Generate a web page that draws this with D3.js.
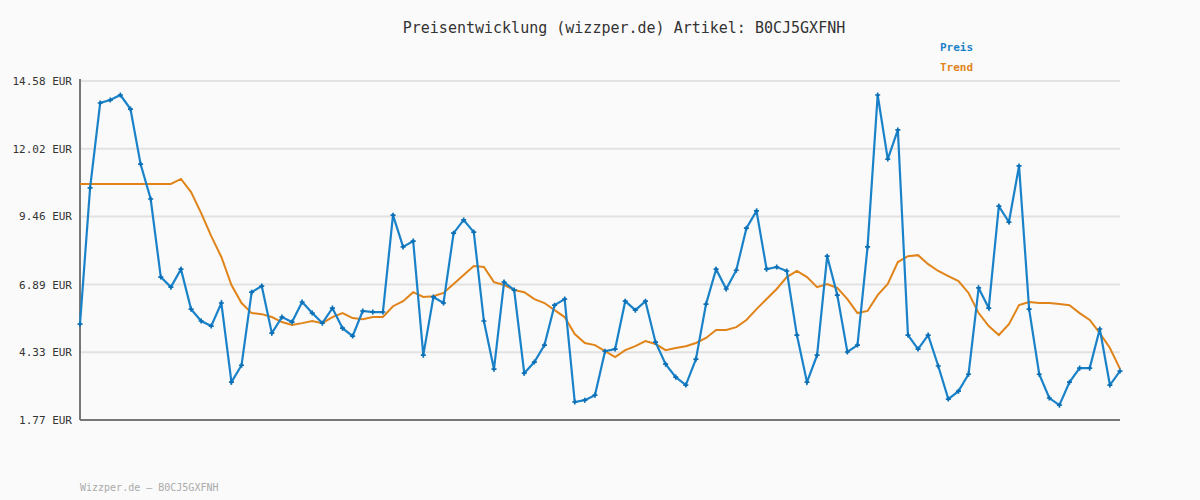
<!DOCTYPE html><html><head><meta charset="utf-8"><script src="https://cdn.jsdelivr.net/npm/d3@7"></script>
<style>body{margin:0;background:#fafafa}svg{font-family:"DejaVu Sans Mono",monospace}</style></head><body><svg id="c" width="1200" height="500"></svg><script>
const price=[5.39,10.54,13.75,13.86,14.05,13.52,11.44,10.12,7.17,6.79,7.47,5.96,5.51,5.32,6.19,3.20,3.84,6.60,6.83,5.05,5.66,5.47,6.23,5.81,5.43,6.00,5.24,4.94,5.89,5.85,5.85,9.51,8.31,8.53,4.22,6.42,6.19,8.83,9.33,8.87,5.51,3.69,6.98,6.68,3.54,3.96,4.60,6.11,6.34,2.45,2.52,2.71,4.37,4.45,6.26,5.92,6.26,4.71,3.88,3.39,3.09,4.07,6.15,7.47,6.72,7.43,9.02,9.67,7.47,7.55,7.40,4.98,3.20,4.22,7.96,6.49,4.34,4.60,8.31,14.05,11.63,12.73,4.98,4.45,4.98,3.81,2.56,2.86,3.50,6.76,6.00,9.85,9.25,11.37,5.96,3.50,2.60,2.33,3.20,3.73,3.73,5.21,3.09,3.62];
const trend=[10.69,10.69,10.69,10.69,10.69,10.69,10.69,10.69,10.69,10.69,10.88,10.38,9.59,8.72,7.93,6.87,6.19,5.81,5.77,5.66,5.47,5.36,5.43,5.51,5.43,5.66,5.81,5.62,5.58,5.66,5.66,6.07,6.26,6.60,6.42,6.45,6.57,6.91,7.25,7.59,7.55,6.98,6.87,6.68,6.60,6.34,6.19,5.92,5.66,5.02,4.68,4.60,4.37,4.15,4.41,4.56,4.75,4.64,4.41,4.49,4.56,4.68,4.87,5.17,5.17,5.28,5.55,5.96,6.34,6.72,7.17,7.40,7.17,6.79,6.91,6.76,6.34,5.81,5.89,6.49,6.91,7.74,7.96,8.00,7.66,7.40,7.21,7.02,6.57,5.81,5.32,4.98,5.39,6.11,6.23,6.19,6.19,6.15,6.11,5.81,5.55,5.05,4.49,3.70];
const ticks=[1.77,4.33,6.89,9.46,12.02,14.58];
const title="Preisentwicklung (wizzper.de) Artikel: B0CJ5GXFNH";
const svg=d3.select("#c");
const L=80,R=1120,T=81,B=420;
const x=d3.scaleLinear().domain([0,price.length-1]).range([L,R]);
const y=d3.scaleLinear().domain([1.77,14.58]).range([B,T]);
svg.append("g").selectAll("line").data(ticks).join("line").attr("x1",L).attr("x2",R).attr("y1",d=>y(d)).attr("y2",d=>y(d)).attr("stroke","#e2e2e2").attr("stroke-width",2);
svg.append("g").selectAll("text").data(ticks).join("text").attr("x",L-8).attr("y",d=>y(d)+4).attr("text-anchor","end").attr("font-size",11).attr("fill","#333").text(d=>d.toFixed(2)+" EUR");
svg.append("line").attr("x1",L).attr("x2",L).attr("y1",T-2).attr("y2",B).attr("stroke","#777").attr("stroke-width",2);
svg.append("line").attr("x1",L).attr("x2",R).attr("y1",B).attr("y2",B).attr("stroke","#777").attr("stroke-width",2);
const ln=d3.line().x((d,i)=>x(i)).y(d=>y(d));
svg.append("path").attr("d",ln(trend)).attr("fill","none").attr("stroke","#e0841a").attr("stroke-width",2);
svg.append("path").attr("d",ln(price)).attr("fill","none").attr("stroke","#1a82c8").attr("stroke-width",2.2);
svg.append("g").selectAll("path").data(price).join("path").attr("transform",(d,i)=>`translate(${x(i)},${y(d)})`).attr("d",d3.symbol(d3.symbolCross,14)).attr("fill","#0b6fb5");
svg.append("text").attr("x",624).attr("y",33).attr("text-anchor","middle").attr("font-size",15).attr("fill","#333").text(title);
svg.append("text").attr("x",940).attr("y",51).attr("font-size",11).attr("font-weight","bold").attr("fill","#1a82c8").text("Preis");
svg.append("text").attr("x",940).attr("y",71).attr("font-size",11).attr("font-weight","bold").attr("fill","#e0841a").text("Trend");
svg.append("text").attr("x",80).attr("y",491).attr("font-size",10).attr("fill","#aaa").text("Wizzper.de – B0CJ5GXFNH");
</script></body></html>
